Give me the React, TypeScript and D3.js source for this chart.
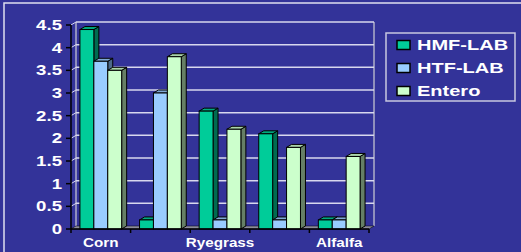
import React from 'react';
import * as d3 from 'd3';

const groupLabels = ['Corn', '', 'Ryegrass', '', 'Alfalfa'];
const seriesNames = ['HMF-LAB', 'HTF-LAB', 'Entero'];
const hmfLab = [4.4, 0.2, 2.6, 2.1, 0.2];
const htfLab = [3.7, 3.0, 0.2, 0.2, 0.2];
const entero = [3.5, 3.8, 2.2, 1.8, 1.6];
const yTicks = [0, 0.5, 1, 1.5, 2, 2.5, 3, 3.5, 4, 4.5];

const colors = [
  { front: '#00cc99', side: '#006b50', top: '#00a87e' },
  { front: '#99ccff', side: '#4d6a8a', top: '#7fa9d6' },
  { front: '#ccffcc', side: '#667f66', top: '#aad4aa' },
];

const W = 521;
const H = 252;
const DX = 5;
const DY = -3;
const FONT = 'Arial, "Liberation Sans", sans-serif';

export default function App() {
  const series = [hmfLab, htfLab, entero];
  const idx = groupLabels.map((_, i) => String(i));

  const x0 = d3.scaleBand<string>().domain(idx).range([71, 369]).paddingInner(0.3).paddingOuter(0.15);
  const x1 = d3.scaleBand<string>().domain(seriesNames).range([0, x0.bandwidth()]);
  const y = d3.scaleLinear().domain([0, 4.5]).range([229, 25]);

  const bars: any[] = [];
  idx.forEach((g, gi) => {
    seriesNames.forEach((s, si) => {
      const v = series[si][gi];
      const xl = (x0(g) as number) + (x1(s) as number);
      const xr = xl + x1.bandwidth();
      const yt = y(v);
      const yb = y(0);
      const c = colors[si];
      bars.push(
        <g key={g + s}>
          <polygon
            points={`${xr},${yb} ${xr + DX},${yb + DY} ${xr + DX},${yt + DY} ${xr},${yt}`}
            fill={c.side}
            stroke="#000"
            strokeWidth={1}
            strokeLinejoin="round"
          />
          <polygon
            points={`${xl},${yt} ${xr},${yt} ${xr + DX},${yt + DY} ${xl + DX},${yt + DY}`}
            fill={c.top}
            stroke="#000"
            strokeWidth={1}
            strokeLinejoin="round"
          />
          <rect x={xl} y={yt} width={xr - xl} height={yb - yt} fill={c.front} stroke="#000" strokeWidth={1} />
        </g>
      );
    });
  });

  const [xa, xb] = x0.range();

  return (
    <svg width={W} height={H} style={{ position: 'absolute', left: 0, top: 0, background: '#333399' }}>
      <rect x={0} y={0} width={W} height={H} fill="#333399" />
      <rect x={4} y={3} width={540} height={270} fill="none" stroke="#e0e0f0" strokeWidth={1.5} />

      {/* back wall */}
      <line x1={xa + DX} x2={xa + DX} y1={y(4.5) + DY} y2={y(0) + DY} stroke="#b0b0c8" strokeWidth={1.5} />
      <line x1={xb + DX} x2={xb + DX} y1={y(4.5) + DY} y2={y(0) + DY} stroke="#b0b0c8" strokeWidth={1.5} />
      {yTicks.slice(1).map((t) => (
        <g key={t}>
          <line x1={xa + DX} x2={xb + DX} y1={y(t) + DY} y2={y(t) + DY} stroke="#d8d8ee" strokeWidth={1.5} />
          <line x1={xa} x2={xa + DX} y1={y(t)} y2={y(t) + DY} stroke="#d8d8ee" strokeWidth={1} />
        </g>
      ))}
      {/* floor */}
      <polygon
        points={`${xa},${y(0)} ${xb},${y(0)} ${xb + DX},${y(0) + DY} ${xa + DX},${y(0) + DY}`}
        fill="#8c8c9c"
        stroke="#000"
        strokeWidth={0.5}
      />

      {bars}

      {/* axes */}
      <line x1={xa} x2={xa} y1={y(4.5)} y2={y(0)} stroke="#000" strokeWidth={1.5} />
      <line x1={xa} x2={xb} y1={y(0)} y2={y(0)} stroke="#000" strokeWidth={1.5} />
      {yTicks.map((t) => (
        <g key={t}>
          <line x1={xa - 5} x2={xa} y1={y(t)} y2={y(t)} stroke="#000" strokeWidth={1.5} />
          <text
            transform={`translate(62,${y(t) + 5}) scale(1.33,1)`}
            textAnchor="end"
            fill="#fff"
            fontFamily={FONT}
            fontWeight="bold"
            fontSize={14}
          >
            {String(t)}
          </text>
        </g>
      ))}
      {[...idx, 'end'].map((g, i) => {
        const tx = i === 0 ? xa : i === idx.length ? xb : (x0(g) as number) - (x0.step() - x0.bandwidth()) / 2;
        return <line key={g} x1={tx} x2={tx} y1={y(0)} y2={y(0) + 4} stroke="#000" strokeWidth={1.5} />;
      })}
      {idx.map((g, i) => (
        <text
          key={g}
          transform={`translate(${(x0(g) as number) + x0.bandwidth() / 2},247) scale(1.22,1)`}
          textAnchor="middle"
          fill="#fff"
          fontFamily={FONT}
          fontWeight="bold"
          fontSize={12.5}
        >
          {groupLabels[i]}
        </text>
      ))}

      {/* legend */}
      <rect x={386} y={33} width={129} height={68} fill="none" stroke="#c8c8e0" strokeWidth={1.5} />
      {seriesNames.map((s, i) => {
        const cy = 45 + i * 23;
        return (
          <g key={s}>
            <rect x={397} y={cy - 4.5} width={13} height={9} fill={colors[i].front} stroke="#000" strokeWidth={1.5} />
            <text
              transform={`translate(417,${cy + 5}) scale(1.38,1)`}
              fill="#fff"
              fontFamily={FONT}
              fontWeight="bold"
              fontSize={14.5}
            >
              {s}
            </text>
          </g>
        );
      })}
    </svg>
  );
}
